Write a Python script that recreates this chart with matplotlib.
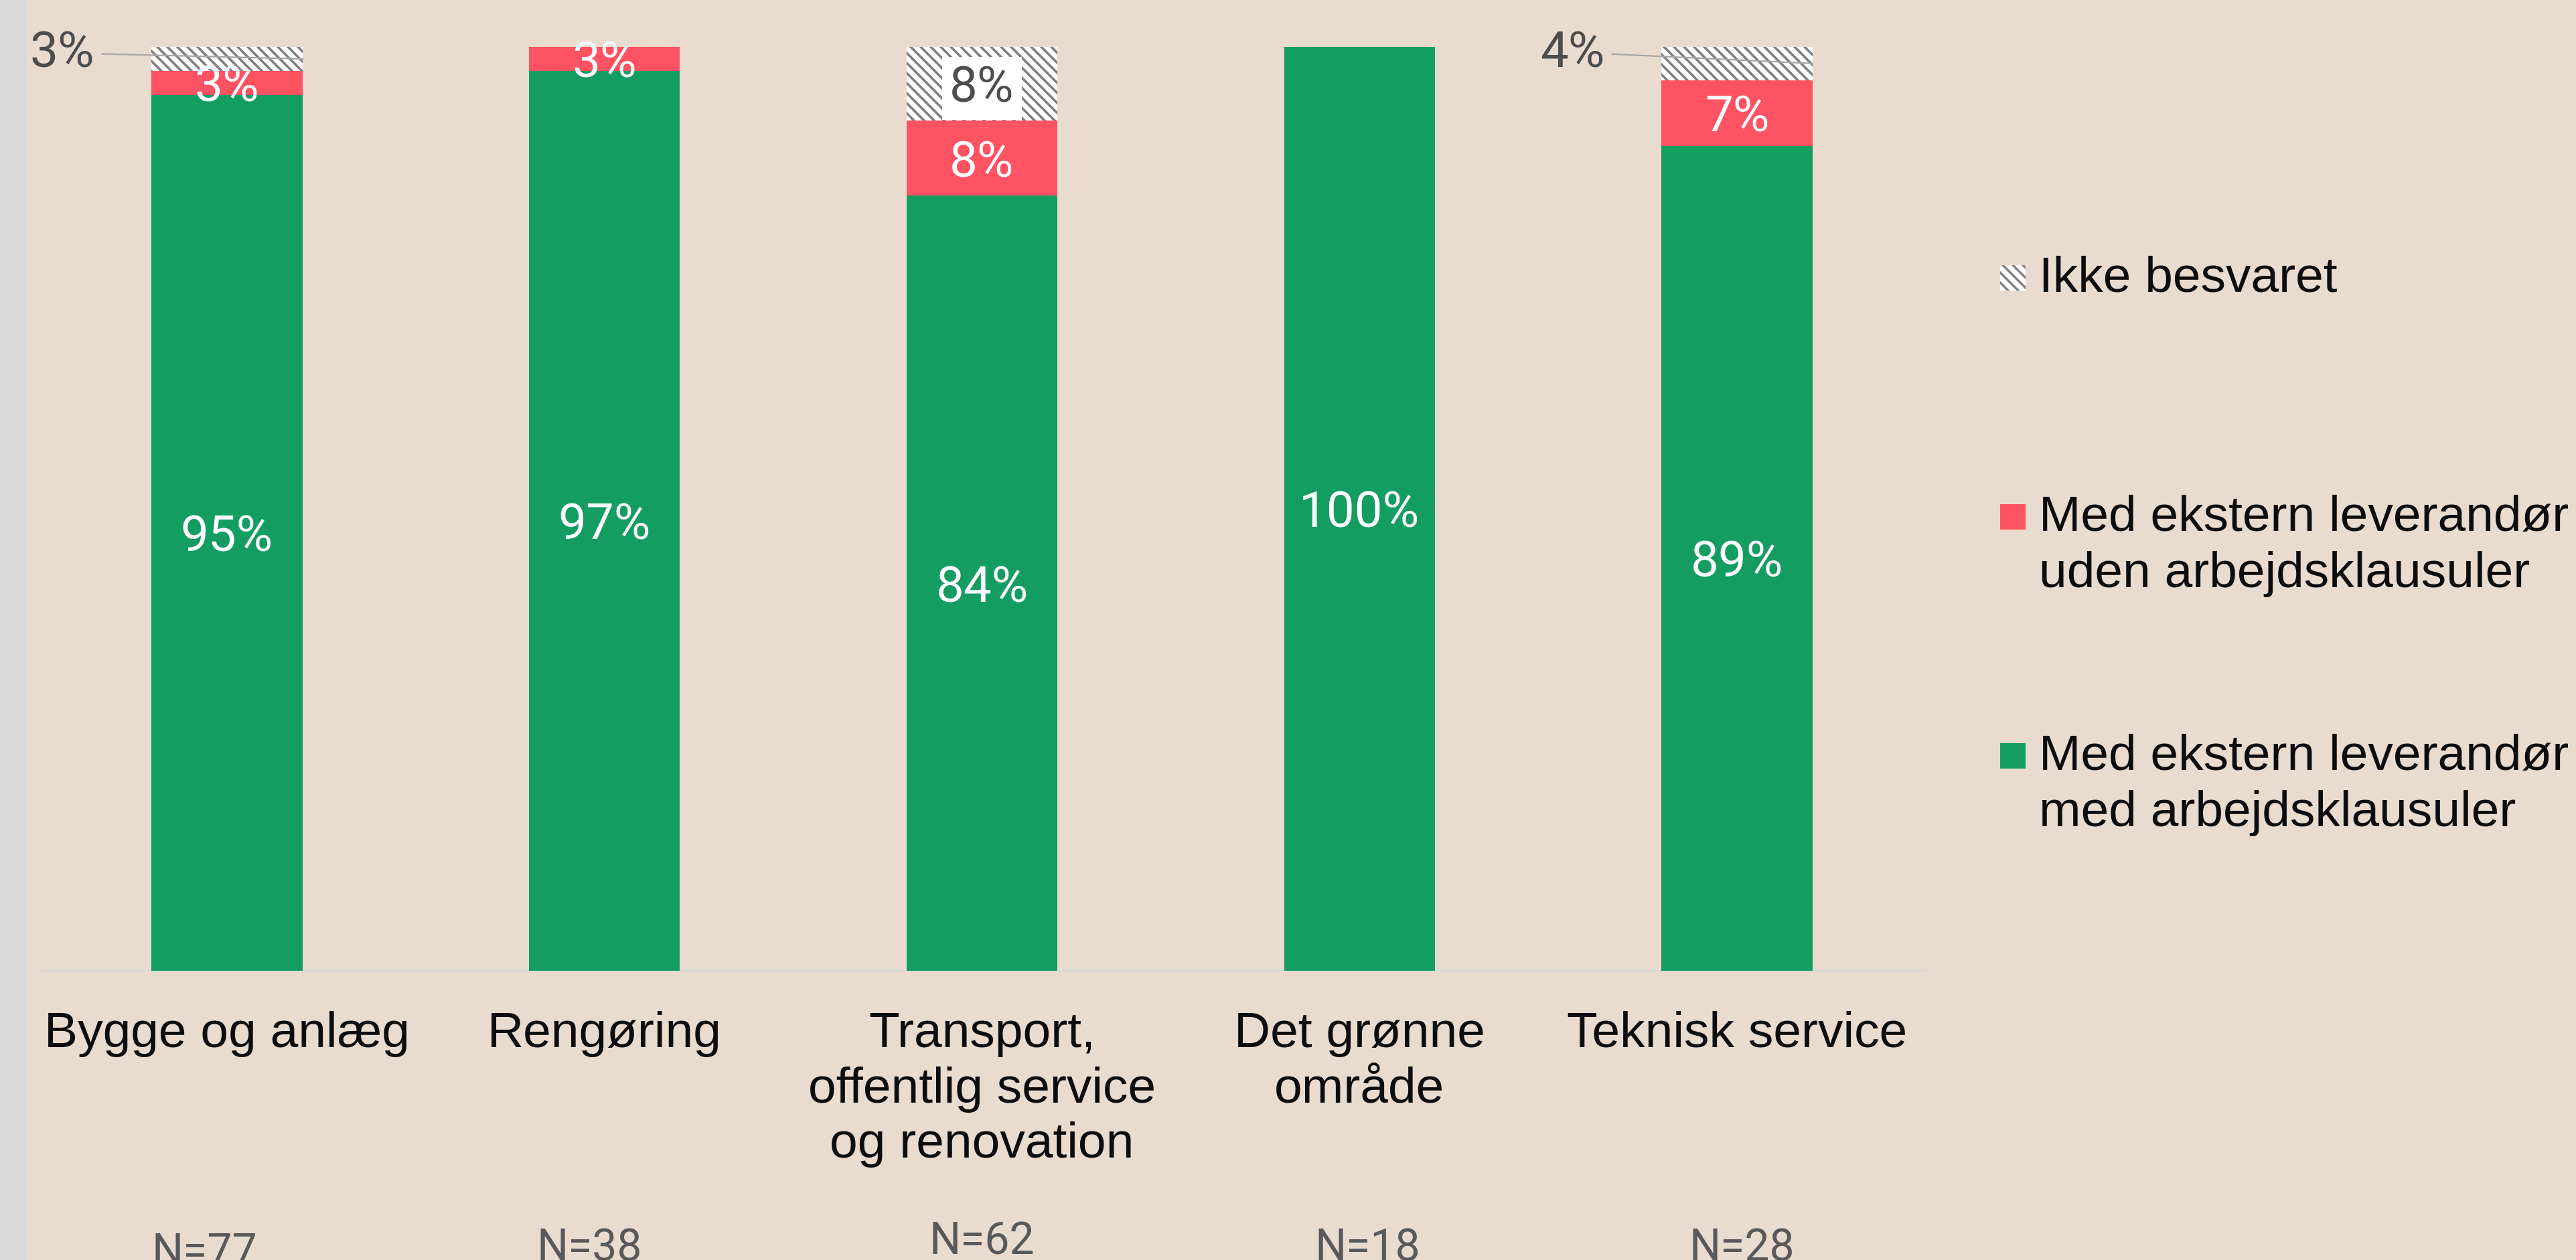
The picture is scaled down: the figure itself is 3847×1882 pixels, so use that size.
import matplotlib
matplotlib.use("Agg")
import matplotlib.pyplot as plt
from matplotlib.patches import Rectangle
import numpy as np

# ---------------- data ----------------
categories = ["Bygge og anlæg", "Rengøring", "Transport,\noffentlig service\nog renovation",
              "Det grønne\nområde", "Teknisk service"]
n_labels = ["N=77", "N=38", "N=62", "N=18", "N=28"]
med_klausuler = [94.8, 97.4, 83.9, 100.0, 89.3]     # green
uden_klausuler = [2.6, 2.6, 8.1, 0.0, 7.1]          # red
ikke_besvaret = [2.6, 0.0, 8.1, 0.0, 3.6]           # hatched
legend_labels = ["Ikke besvaret",
                 "Med ekstern leverandør\nuden arbejdsklausuler",
                 "Med ekstern leverandør\nmed arbejdsklausuler"]

# ---------------- style ----------------
W, H, DPI = 3848, 1882, 90
BG = "#eadbcf"
GREEN = "#149d60"
RED = "#ff5262"
HATCH_EC = "#808080"
CAT_FONT = "Liberation Sans"
NUM_FONT = "Roboto"
NUM_W = "normal"


def pt(px):
    """pixels -> points at the figure dpi"""
    return px * 72 / DPI


def fx(px):
    return px / W


def fy(py):
    return 1 - py / H


plt.rcParams["hatch.linewidth"] = pt(3.6)

fig = plt.figure(figsize=(W / DPI, H / DPI), dpi=DPI, facecolor=BG)
# grey strip at left edge
fig.add_artist(Rectangle((0, 0), fx(39), 1, transform=fig.transFigure,
                         facecolor="#d9d9d9", edgecolor="none", zorder=0))

ax = fig.add_axes([fx(57), fy(1450), fx(2876) - fx(57), fy(70) - fy(1450)])
ax.set_facecolor(BG)
ax.set_xlim(-0.5, 4.5)
ax.set_ylim(0, 100)

x = np.arange(len(categories))
g = np.array(med_klausuler)
r = np.array(uden_klausuler)
h = np.array(ikke_besvaret)
bw = 0.4

ax.bar(x, g, width=bw, color=GREEN, zorder=3, linewidth=0)
ax.bar(x, r, width=bw, bottom=g, color=RED, zorder=3, linewidth=0)
ax.bar(x, h, width=bw, bottom=g + r, facecolor="white", edgecolor=HATCH_EC,
       hatch="\\\\", linewidth=0, zorder=3)

for s in ["top", "left", "right"]:
    ax.spines[s].set_visible(False)
ax.spines["bottom"].set_color("#d9d9d9")
ax.spines["bottom"].set_linewidth(pt(2.4))
ax.spines["bottom"].set_zorder(2)
ax.set_yticks([])
ax.set_xticks([])

PCT_SIZE = pt(74.5)
# value labels
for i in range(len(x)):
    if g[i] > 0:
        ax.text(x[i], g[i] / 2, f"{round(g[i])}%", ha="center", va="center_baseline",
                color="white", fontsize=PCT_SIZE, family=NUM_FONT, fontweight=NUM_W, zorder=5)
    if r[i] > 0:
        ax.text(x[i], g[i] + r[i] / 2, f"{round(r[i])}%", ha="center", va="center_baseline",
                color="white", fontsize=PCT_SIZE, family=NUM_FONT, fontweight=NUM_W, zorder=5)
    if h[i] > 0:
        mid = g[i] + r[i] + h[i] / 2
        if h[i] >= 5:
            ax.text(x[i], mid, f"{round(h[i])}%", ha="center", va="center_baseline",
                    color="#4d4d4d", fontsize=PCT_SIZE, family=NUM_FONT, fontweight=NUM_W,
                    zorder=5,
                    bbox=dict(boxstyle="square,pad=0.15", facecolor="white", edgecolor="none"))
        else:
            ax.annotate(f"{round(h[i])}%", xy=(x[i] + bw / 2, mid),
                        xytext=(x[i] - 0.35, 99.8), ha="right", va="center_baseline",
                        color="#4d4d4d", fontsize=PCT_SIZE, family=NUM_FONT, fontweight=NUM_W,
                        zorder=6,
                        arrowprops=dict(arrowstyle="-", color="#a6a6a6", lw=pt(2.2),
                                        relpos=(1, 0.5), shrinkA=pt(8), shrinkB=0),
                        annotation_clip=False)

# category labels
for i, cat in enumerate(categories):
    ax.annotate(cat, xy=(x[i], 0), xycoords=("data", "axes fraction"),
                xytext=(0, -pt(60)), textcoords="offset points",
                ha="center", va="top", multialignment="center",
                fontsize=pt(75), family=CAT_FONT, color="#0d0d0d", linespacing=1.25,
                annotation_clip=False)

# N labels (layout: top edge and horizontal shift in pixels)
n_top_px = [1840, 1833, 1823, 1833, 1833]
n_dx_px = [-34, -22, 0, 12, 7]
for i, nl in enumerate(n_labels):
    ax.annotate(nl, xy=(x[i], 0), xycoords=("data", "axes fraction"),
                xytext=(pt(n_dx_px[i]), -pt(n_top_px[i] - 1450)), textcoords="offset points",
                ha="center", va="top", fontsize=pt(66), family=NUM_FONT, fontweight=NUM_W,
                color="#595959", annotation_clip=False)

# legend (manual)
plt.rcParams["hatch.linewidth"] = pt(3.4)
sq = 38
legend_tops = [396, 753, 1110]
legend_styles = [dict(facecolor="white", edgecolor=HATCH_EC, hatch="\\\\", linewidth=0),
                 dict(facecolor=RED, edgecolor="none"),
                 dict(facecolor=GREEN, edgecolor="none")]
for top, lab, st in zip(legend_tops, legend_labels, legend_styles):
    fig.add_artist(Rectangle((fx(2987), fy(top + sq)), sq / W, sq / H,
                             transform=fig.transFigure, **st))
    fig.text(fx(3045), fy(top - 14), lab, ha="left", va="top", fontsize=pt(75),
             family=CAT_FONT, color="#0d0d0d", linespacing=1.28)

fig.savefig("out.png", dpi=DPI, facecolor=BG)
